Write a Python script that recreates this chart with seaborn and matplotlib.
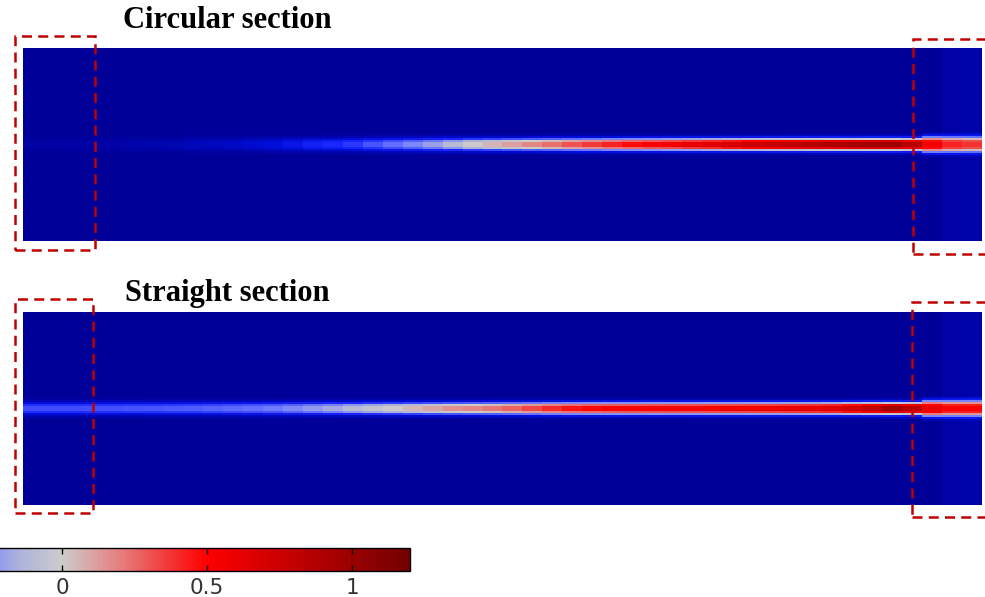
import numpy as np
import matplotlib
matplotlib.use("Agg")
import matplotlib.pyplot as plt
from matplotlib.colors import LinearSegmentedColormap
from matplotlib.patches import Rectangle
import seaborn as sns

# centreline values along the channel (48 columns, left -> right)
circular_centre = [-0.96, -0.96, -0.95, -0.95, -0.94, -0.93, -0.92, -0.90,
                   -0.87, -0.85, -0.82, -0.78, -0.73, -0.67, -0.60, -0.55,
                   -0.50, -0.42, -0.35, -0.28, -0.20, -0.10, 0.00, 0.06,
                   0.12, 0.18, 0.24, 0.30, 0.36, 0.42, 0.47, 0.51,
                   0.55, 0.60, 0.65, 0.70, 0.75, 0.80, 0.84, 0.88,
                   0.91, 0.94, 0.97, 0.98, 0.85, 0.55, 0.42, 0.38]
straight_centre = [-0.45, -0.45, -0.45, -0.44, -0.44, -0.43, -0.42, -0.41,
                   -0.40, -0.38, -0.36, -0.34, -0.31, -0.27, -0.22, -0.17,
                   -0.10, -0.05, 0.00, 0.05, 0.10, 0.15, 0.18, 0.22,
                   0.27, 0.33, 0.40, 0.45, 0.48, 0.50, 0.51, 0.52,
                   0.53, 0.54, 0.55, 0.56, 0.57, 0.58, 0.60, 0.62,
                   0.66, 0.72, 0.82, 0.95, 0.85, 0.60, 0.50, 0.50]

# background level (last columns slightly lighter)
circular_bg = [-1.0] * 46 + [-0.95, -0.93]
straight_bg = [-1.0] * 46 + [-0.95, -0.93]

# transverse band profiles (weights per row around centre row)
profile_main = [0.06, 0.2, 0.5, 0.85, 1.0, 1.0, 1.0, 0.85, 0.5, 0.2, 0.06]
profile_end = [0.06, 0.2, 0.45, 0.75, 0.95, 1.0, 1.0, 1.0, 0.95, 0.75, 0.45, 0.2, 0.06]
end_start = 45          # column where the outlet section begins
n_rows = 97
centre_row = 48

cbar_ticks = [0, 0.5, 1]
cbar_labels = ["0", "0.5", "1"]

cmap = LinearSegmentedColormap.from_list("wave", [
    (0.000, (0.00, 0.00, 0.50)),
    (0.083, (0.00, 0.00, 0.60)),
    (0.188, (0.00, 0.05, 0.85)),
    (0.271, (0.10, 0.15, 1.00)),
    (0.375, (0.45, 0.50, 1.00)),
    (0.438, (0.68, 0.70, 0.86)),
    (0.500, (0.80, 0.80, 0.80)),
    (0.583, (0.90, 0.50, 0.50)),
    (0.708, (1.00, 0.00, 0.00)),
    (1.000, (0.45, 0.00, 0.00)),
])


def build_field(centre, bg):
    field = np.tile(np.array(bg, dtype=float), (n_rows, 1))
    for c in range(len(centre)):
        prof = profile_end if c >= end_start else profile_main
        half = len(prof) // 2
        for k, w in enumerate(prof):
            r = centre_row + k - half
            field[r, c] = bg[c] + w * (centre[c] - bg[c])
    return field


W, H = 985, 597
fig = plt.figure(figsize=(W / 100, H / 100), dpi=100, facecolor="white")


def px_axes(x0, y0, x1, y1):
    return fig.add_axes([x0 / W, 1 - y1 / H, (x1 - x0) / W, (y1 - y0) / H])


ax_top = px_axes(23, 48, 982, 241)
ax_bot = px_axes(23, 312, 982, 505)
cax = px_axes(-286, 548, 410, 571)

sns.heatmap(build_field(circular_centre, circular_bg), ax=ax_top, cmap=cmap,
            vmin=-1.2, vmax=1.2, cbar=False, xticklabels=False, yticklabels=False)
sns.heatmap(build_field(straight_centre, straight_bg), ax=ax_bot, cmap=cmap,
            vmin=-1.2, vmax=1.2, cbar=True, cbar_ax=cax,
            cbar_kws={"orientation": "horizontal", "ticks": cbar_ticks},
            xticklabels=False, yticklabels=False)

cb = ax_bot.collections[0].colorbar
cb.outline.set_linewidth(1.0)
cb.outline.set_edgecolor("black")
cb.set_ticklabels(cbar_labels)
cax.tick_params(direction="in", top=True, bottom=True, length=4, width=1,
                color="black", labelsize=15.5, labelcolor="#333333", pad=5)

title_font = dict(family=["Liberation Serif", "DejaVu Serif"], weight="bold",
                  fontsize=22, ha="center", va="center")
fig.text(227 / W, 1 - 20 / H, "Circular section", **title_font)
fig.text(227 / W, 1 - 293 / H, "Straight section", **title_font)

# dashed boxes around inlet / outlet regions
boxes = [(15, 36, 95, 250), (913, 39, 995, 254),
         (15, 299, 93, 513), (912, 302, 995, 517)]
for x0, y0, x1, y1 in boxes:
    fig.add_artist(Rectangle((x0 / W, 1 - y1 / H), (x1 - x0) / W, (y1 - y0) / H,
                             transform=fig.transFigure, fill=False,
                             edgecolor="#c00000", linewidth=1.8,
                             linestyle=(0, (4, 2.5)), clip_on=False))

fig.savefig("out.png", dpi=100)
